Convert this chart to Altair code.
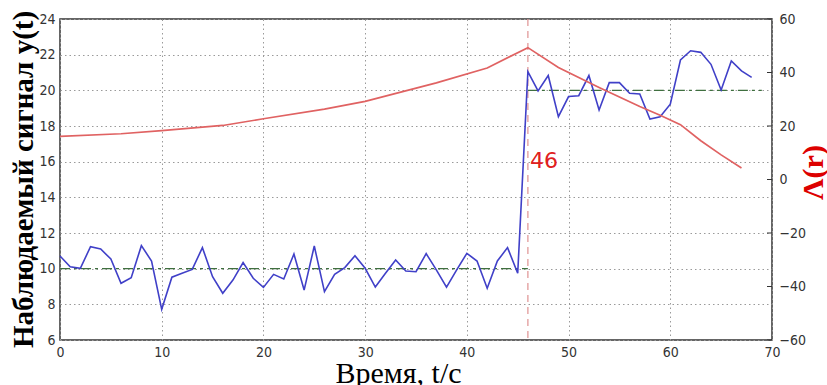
import altair as alt
import pandas as pd

# Observed signal y(t), one sample per second
t_obs = list(range(69))
y_obs = [10.71, 10.11, 10.02, 11.23, 11.10, 10.54, 9.18, 9.49, 11.29, 10.43,
         7.72, 9.52, 9.74, 9.96, 11.18, 9.55, 8.62, 9.36, 10.34, 9.46,
         8.95, 9.68, 9.42, 10.82, 8.80, 11.27, 8.71, 9.68, 10.06, 10.73,
         10.02, 8.97, 9.74, 10.49, 9.87, 9.83, 10.84, 9.93, 8.96, 9.93,
         10.86, 10.43, 8.90, 10.43, 11.18, 9.74, 21.05, 19.97, 20.83, 18.52,
         19.65, 19.70, 20.83, 18.90, 20.43, 20.43, 19.84, 19.80, 18.39, 18.52,
         19.22, 21.70, 22.22, 22.13, 21.46, 20.02, 21.65, 21.09, 20.73]

# Statistic Λ(r)
t_stat = [0, 6, 10, 16, 20, 26, 30, 37, 42, 46, 49, 53, 57, 59, 61, 63, 65, 67]
stat = [16.1, 17.1, 18.3, 20.2, 22.7, 26.3, 29.2, 36.1, 41.7, 49.3,
        41.9, 34.4, 27.3, 24.0, 20.5, 14.5, 9.2, 4.3]

# Mean levels before and after the change point
level_start = [0, 46]
level_end = [46, 69]
level_value = [10, 20]

change_point = [46]

x_ticks = list(range(0, 71, 10))
left_ticks = list(range(6, 25, 2))
right_ticks = list(range(-60, 61, 20))

obs_df = pd.DataFrame({"t": t_obs, "y": y_obs})
stat_df = pd.DataFrame({"t": t_stat, "v": stat})
level_df = pd.DataFrame({"t": level_start, "t2": level_end, "y": level_value})
cp_df = pd.DataFrame({"t": change_point, "label": [str(v) for v in change_point]})
rtick_df = pd.DataFrame({"v": right_ticks})

LABEL_FONT = "DejaVu Sans Condensed, DejaVu Sans"

x_axis = alt.Axis(
    values=x_ticks, grid=True, gridDash=[1.5, 3], gridColor="#9a9a9a", gridWidth=1,
    ticks=False, domain=False, labelFont=LABEL_FONT, labelFontSize=14,
    labelColor="#333", labelPadding=5, labelFlush=False,
    title="Время, t/с", titleFont="Liberation Serif", titleFontSize=30,
    titleFontWeight="normal", titleColor="black", titleX=338, titleY=42,
    titleAlign="center", titleBaseline="alphabetic",
)
x_enc = alt.X("t:Q", scale=alt.Scale(domain=[0, 70], nice=False), axis=x_axis)

left_axis = alt.Axis(
    values=left_ticks, grid=True, gridDash=[1.5, 3], gridColor="#9a9a9a", gridWidth=1,
    ticks=False, domain=False, labelFont=LABEL_FONT, labelFontSize=14,
    labelColor="#333", labelPadding=5, labelFlush=False,
    title="Наблюдаемый сигнал y(t)", titleFont="Liberation Serif", titleFontSize=29,
    titleFontWeight="bold", titleColor="black", titleAngle=270, titleX=-37,
    titleY=160, titleAlign="center", titleBaseline="middle",
)
left_scale = alt.Scale(domain=[6, 24], nice=False, zero=False)

right_axis = alt.Axis(
    orient="right", values=right_ticks, grid=False, ticks=False, domain=False,
    labelFont=LABEL_FONT, labelFontSize=14, labelColor="#333", labelPadding=7,
    labelFlush=False, title="Λ(r)", titleFont="Liberation Serif", titleFontSize=30,
    titleFontWeight="bold", titleColor="#dd0000", titleAngle=270, titleX=41,
    titleY=153, titleAlign="center", titleBaseline="middle",
)
right_scale = alt.Scale(domain=[-60, 60], nice=False, zero=False)

obs_line = alt.Chart(obs_df).mark_line(color="#4040c8", strokeWidth=1.6).encode(
    x=x_enc, y=alt.Y("y:Q", scale=left_scale, axis=left_axis)
)

levels = alt.Chart(level_df).mark_rule(
    color="#3f6f3f", strokeWidth=1.4, strokeDash=[10, 4, 3, 4]
).encode(x=x_enc, x2="t2:Q", y=alt.Y("y:Q", scale=left_scale, axis=left_axis))

cp_rule = alt.Chart(cp_df).mark_rule(
    color="#e29a9a", strokeWidth=1.3, strokeDash=[7, 5]
).encode(x=x_enc)

cp_text = alt.Chart(cp_df).mark_text(
    align="left", baseline="alphabetic", dx=2, fontSize=22,
    font="DejaVu Sans", color="#e02020"
).encode(x=x_enc, y=alt.value(149), text="label:N")

left_group = alt.layer(levels, cp_rule, obs_line, cp_text)

stat_line = alt.Chart(stat_df).mark_line(color="#e06262", strokeWidth=1.7).encode(
    x=x_enc, y=alt.Y("v:Q", scale=right_scale, axis=right_axis)
)

# inward tick marks of the right axis
rticks = alt.Chart(rtick_df).mark_rule(color="#333", strokeWidth=1).encode(
    x=alt.value(707), x2=alt.value(712),
    y=alt.Y("v:Q", scale=right_scale, axis=right_axis),
)

right_group = alt.layer(stat_line, rticks)

chart = (
    alt.layer(left_group, right_group)
    .resolve_scale(y="independent")
    .properties(
        width=712, height=321,
        autosize=alt.AutoSizeParams(type="none"),
        padding={"left": 60, "top": 19, "right": 55, "bottom": 45},
        background="white",
    )
    .configure_view(stroke="#333", strokeWidth=1.5)
)

chart.save("out.html", embed_options={"renderer": "svg", "actions": False})
